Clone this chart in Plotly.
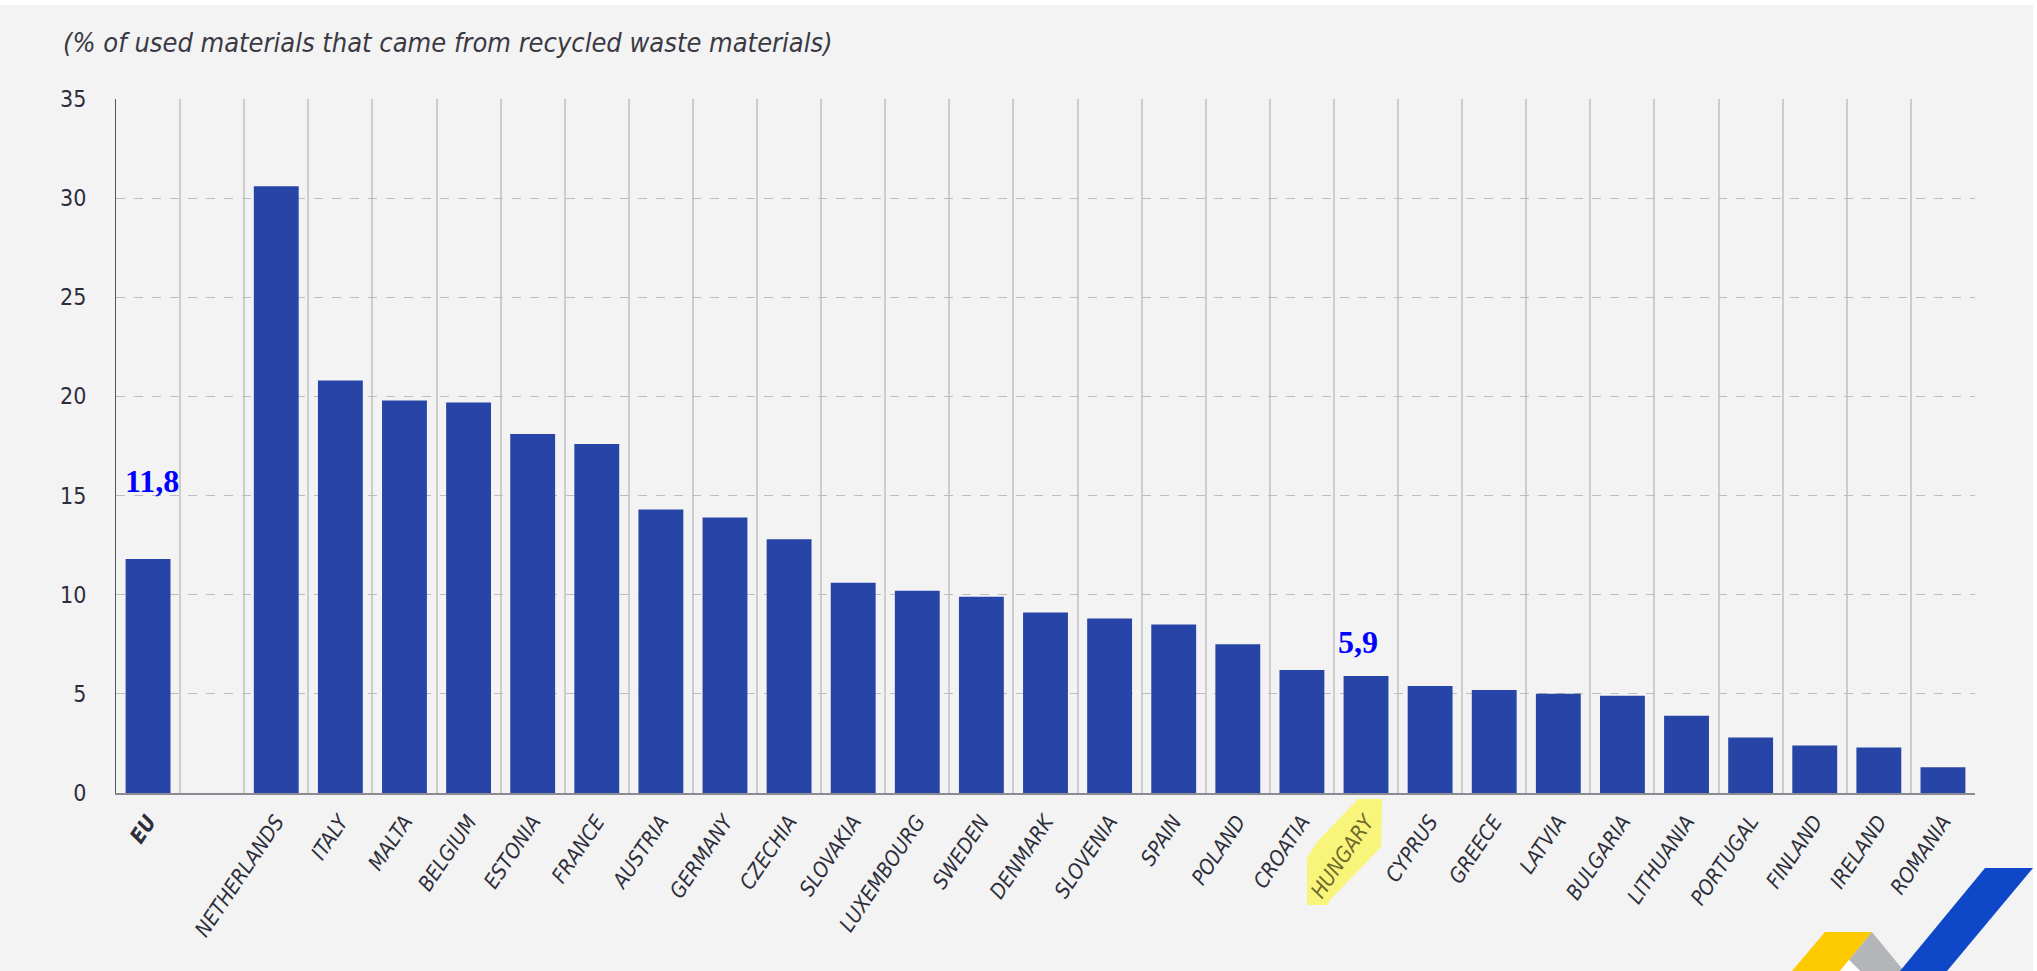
import plotly.graph_objects as go

# Circular material use rate by country
categories = [
    "EU", " ", "NETHERLANDS", "ITALY", "MALTA", "BELGIUM", "ESTONIA", "FRANCE",
    "AUSTRIA", "GERMANY", "CZECHIA", "SLOVAKIA", "LUXEMBOURG", "SWEDEN",
    "DENMARK", "SLOVENIA", "SPAIN", "POLAND", "CROATIA", "HUNGARY", "CYPRUS",
    "GREECE", "LATVIA", "BULGARIA", "LITHUANIA", "PORTUGAL", "FINLAND",
    "IRELAND", "ROMANIA",
]
values = [
    11.8, None, 30.6, 20.8, 19.8, 19.7, 18.1, 17.6,
    14.3, 13.9, 12.8, 10.6, 10.2, 9.9,
    9.1, 8.8, 8.5, 7.5, 6.2, 5.9, 5.4,
    5.2, 5.0, 4.9, 3.9, 2.8, 2.4,
    2.3, 1.3,
]
tick_labels = (["<b>EU</b>", ""] + categories[2:])
tick_labels[categories.index("HUNGARY")] = "<span style='color:#6e6a2c'>HUNGARY</span>"
y_ticks = [0, 5, 10, 15, 20, 25, 30, 35]
labelled = ["EU", "HUNGARY"]
subtitle = "(% of used materials that came from recycled waste materials)"

NARROW = "DejaVu Sans Condensed, Liberation Sans, sans-serif"

W, H = 2037, 971
L, R, T, B = 116, 1975, 99, 793  # plot area in pixels


def px(x):
    return (x - L) / (R - L)


def py(y):
    return (B - y) / (B - T)


def poly(points):
    return "M " + " L ".join(f"{px(x):.5f},{py(y):.5f}" for x, y in points) + " Z"


fig = go.Figure(
    go.Bar(
        x=categories,
        y=values,
        marker=dict(color="#2745a6", line=dict(width=0)),
        hoverinfo="x+y",
    )
)

label_shift = {"EU": (4, 58), "HUNGARY": (-8, 14)}
for name in labelled:
    v = values[categories.index(name)]
    dx, dy = label_shift[name]
    fig.add_annotation(
        x=name, y=v, xref="x", yref="y",
        text=f"<b>{v:.1f}</b>".replace(".", ","),
        showarrow=False, yanchor="bottom", xshift=dx, yshift=dy,
        font=dict(family="Liberation Serif", size=32, color="#0000ff"),
    )

fig.add_annotation(
    x=px(61), y=py(43), xref="paper", yref="paper",
    xanchor="left", yanchor="middle", showarrow=False,
    text=subtitle,
    font=dict(family=NARROW, size=27, color="#3a3a44", style="italic"),
)

shapes = [
    # page background
    dict(type="path", xref="paper", yref="paper", layer="below",
         path=poly([(0, 5), (2033, 5), (2033, 971), (0, 971)]),
         fillcolor="#f3f3f3", line=dict(width=0)),
    # highlight marker behind HUNGARY
    dict(type="path", xref="paper", yref="paper", layer="below",
         path=poly([(1358, 799), (1382, 799), (1381, 847), (1330, 900),
                    (1328, 905), (1307, 905), (1307, 858), (1317, 842)]),
         fillcolor="#f8f57a", line=dict(width=0)),
    # corner logo
    dict(type="path", xref="paper", yref="paper", layer="above",
         path=poly([(1825, 932), (1872, 932), (1840, 971), (1792, 971)]),
         fillcolor="#fdc900", line=dict(width=0)),
    dict(type="path", xref="paper", yref="paper", layer="above",
         path=poly([(1872, 932), (1904, 971), (1860, 971), (1849, 960)]),
         fillcolor="#b3b5b9", line=dict(width=0)),
    dict(type="path", xref="paper", yref="paper", layer="above",
         path=poly([(1849, 960), (1860, 971), (1840, 971)]),
         fillcolor="#ffffff", line=dict(width=0)),
    dict(type="path", xref="paper", yref="paper", layer="above",
         path=poly([(1985, 868), (2033, 868), (1947, 971), (1900, 971)]),
         fillcolor="#0e47c8", line=dict(width=0)),
]

fig.update_layout(
    width=W, height=H, autosize=False,
    margin=dict(l=L, r=W - R, t=T, b=H - B, pad=0),
    paper_bgcolor="#ffffff",
    plot_bgcolor="#f3f3f3",
    bargap=0.30,
    showlegend=False,
    shapes=shapes,
    xaxis=dict(
        type="category",
        categoryorder="array", categoryarray=categories,
        tickmode="array", tickvals=categories, ticktext=tick_labels,
        tickson="boundaries", ticks="",
        showgrid=True, gridcolor="#cdcdcd", gridwidth=1.5,
        showline=True, linecolor="#8a8a92", linewidth=2,
        tickangle=-56, ticklabelstandoff=6,
        tickfont=dict(family=NARROW, size=21, color="#2e2e3a", style="italic"),
        fixedrange=True,
    ),
    yaxis=dict(
        range=[0, 35],
        tickmode="array", tickvals=y_ticks, ticktext=[str(t) for t in y_ticks],
        showgrid=True, gridcolor="#bdbdbd", gridwidth=1, griddash="dash",
        zeroline=False,
        showline=True, linecolor="#55555e", linewidth=1,
        ticks="", ticklabelstandoff=24,
        tickfont=dict(family=NARROW, size=23, color="#2e2e3a"),
        fixedrange=True,
    ),
)

fig.write_html("out.html")
